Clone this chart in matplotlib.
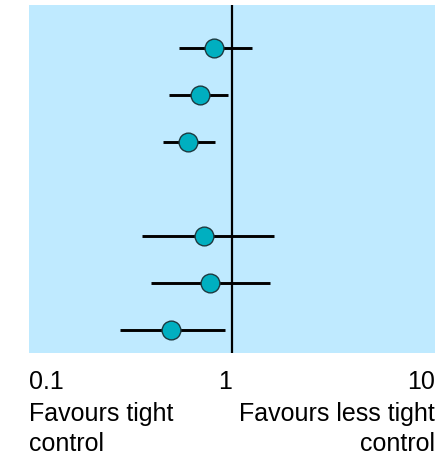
import matplotlib
matplotlib.use("Agg")
import matplotlib.pyplot as plt

# odds ratios with 95% confidence limits, one row per trial (top to bottom)
rows = [1, 2, 3, 5, 6, 7]
odds_ratio = [0.82, 0.70, 0.61, 0.73, 0.78, 0.50]
ci_low = [0.55, 0.49, 0.46, 0.36, 0.40, 0.28]
ci_high = [1.25, 0.96, 0.83, 1.62, 1.54, 0.92]

tick_values = [0.1, 1, 10]
tick_labels = ["0.1", "1", "10"]
left_note = "Favours tight\ncontrol"
right_note = "Favours less tight\ncontrol"

plt.rcParams['font.family'] = ['Liberation Sans', 'DejaVu Sans']

fig = plt.figure(figsize=(4.44, 4.62), dpi=100)
ax = fig.add_axes([0.0646, 0.236, 0.9154, 0.753])
ax.set_facecolor('#bfeaff')

ax.axvline(1, color='black', lw=1.6, zorder=2)
ax.hlines(rows, ci_low, ci_high, color='black', lw=2.1, zorder=3)
ax.plot(odds_ratio, rows, 'o', ms=13.5, mfc='#00afc0', mec='#1d3a40', mew=1.0, zorder=4)

ax.set_xscale('log')
ax.set_xlim(0.1, 10)
ax.set_ylim(7.48, 0.08)
ax.set_yticks([])
ax.minorticks_off()
ax.set_xticks(tick_values)
ax.set_xticklabels(tick_labels, fontsize=18)
ax.tick_params(axis='x', length=0, pad=12)
labels = ax.get_xticklabels()
labels[0].set_ha('left')
labels[1].set_ha('right')
labels[2].set_ha('right')
for side in ['top', 'bottom', 'left', 'right']:
    ax.spines[side].set_visible(False)

fig.text(0.0646, 0.071, left_note, ha='left', va='center', fontsize=18, linespacing=1.33)
fig.text(0.98, 0.071, right_note, ha='right', va='center', fontsize=18, linespacing=1.33)

fig.savefig('out.png', dpi=100)
